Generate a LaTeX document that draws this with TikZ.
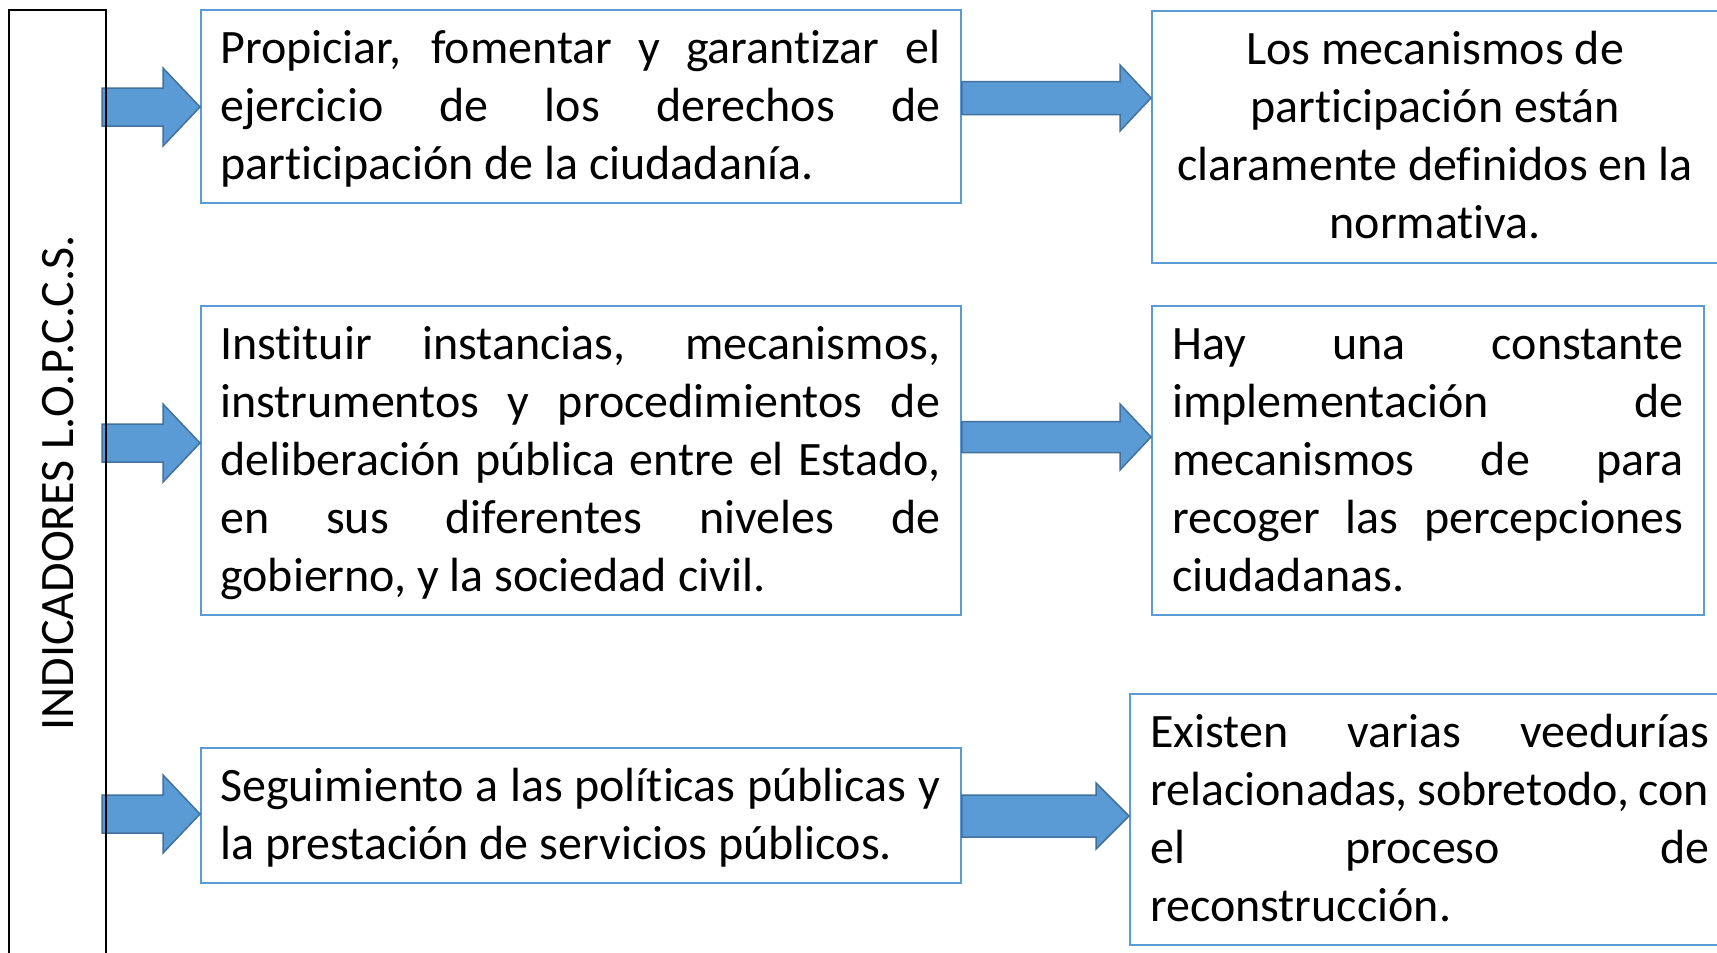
\documentclass[tikz,border=0pt]{standalone}
\usepackage{fontspec}
\setmainfont{Carlito}[Ligatures={NoCommon}]
\usetikzlibrary{calc}
\definecolor{boxblue}{HTML}{5B9BD5}
\definecolor{arrowedge}{HTML}{41719C}
\newcommand\jline[2]{\hbox to #1{\spaceskip=0.226em plus 1fil minus 0.06em\relax #2}}
\newcommand\lline[2]{\hbox to #1{#2\hfil}}
\newcommand\centline[2]{\hbox to #1{\hfil #2\hfil}}
\newcommand\txtblock[1]{\vtop{\baselineskip=58pt\lineskiplimit=-100pt\relax #1}}
\tikzset{
  box/.style={draw=boxblue, line width=1.8pt, fill=white, anchor=north west, inner sep=0pt},
  panel/.style={draw=black, line width=1.8pt, anchor=north west, inner sep=0pt},
  txt/.style={anchor=base west, inner sep=0pt, font=\fontsize{48}{58}\selectfont},
  blkarrow/.style={fill=boxblue, draw=arrowedge, line width=1.5pt, line join=miter},
  blockarrow/.style n args={3}{to path={let \p1=(\tikztostart), \p2=(\tikztotarget) in
    (\x1,\y1+#1) -- (\x2-#3,\y1+#1) -- (\x2-#3,\y1+#2) -- (\x2,\y1) --
    (\x2-#3,\y1-#2) -- (\x2-#3,\y1-#1) -- (\x1,\y1-#1) -- cycle}}
}
\begin{document}
\begin{tikzpicture}[x=1pt,y=-1pt]
\useasboundingbox (0,0) rectangle (1717,953);
\clip (0,0) rectangle (1717,953);
\fill[white] (0,0) rectangle (1717,953);

% boxes
\node[box, minimum width=760pt, minimum height=193pt] (b1) at (200,9) {};
\node[box, minimum width=568pt, minimum height=252pt] (r1) at (1151,10) {};
\node[box, minimum width=760pt, minimum height=309pt] (b2) at (200,305) {};
\node[box, minimum width=552pt, minimum height=309pt] (r2) at (1151,305) {};
\node[box, minimum width=760pt, minimum height=135pt] (b3) at (200,747) {};
\node[box, minimum width=601pt, minimum height=251pt] (r3) at (1129,693) {};

% texts
\node[txt] (t1) at (220,63.5) {\txtblock{%
  \jline{720pt}{Propiciar, fomentar y garantizar el}
  \jline{720pt}{ejercicio de los derechos de}
  \lline{720pt}{participación de la ciudadanía.}}};
\node[txt] (s1) at (1172,64.5) {\txtblock{%
  \centline{526pt}{Los mecanismos de}
  \centline{526pt}{participación están}
  \centline{526pt}{claramente definidos en la}
  \centline{526pt}{normativa.}}};
\node[txt] (t2) at (220,359.5) {\txtblock{%
  \jline{720pt}{Instituir instancias, mecanismos,}
  \jline{720pt}{instrumentos y procedimientos de}
  \jline{720pt}{deliberación pública entre el Estado,}
  \jline{720pt}{en sus diferentes niveles de}
  \lline{720pt}{gobierno, y la sociedad civil.}}};
\node[txt] (s2) at (1172,359.5) {\txtblock{%
  \jline{511pt}{Hay una constante}
  \jline{511pt}{implementación de}
  \jline{511pt}{mecanismos de para}
  \jline{511pt}{recoger las percepciones}
  \lline{511pt}{ciudadanas.}}};
\node[txt] (t3) at (220,801.5) {\txtblock{%
  \jline{720pt}{Seguimiento a las políticas públicas y}
  \lline{720pt}{la prestación de servicios públicos.}}};
\node[txt] (s3) at (1150,747.5) {\txtblock{%
  \jline{559pt}{Existen varias veedurías}
  \jline{559pt}{relacionadas, sobretodo, con}
  \jline{559pt}{el proceso de}
  \lline{559pt}{reconstrucción.}}};

% arrow start points
\coordinate (p1) at (102,107);
\coordinate (p2) at (102,443);
\coordinate (p3) at (102,814);
\coordinate (q1) at (b1.east |- 0,98);
\coordinate (q2) at (b2.east |- 0,437);
\coordinate (q3) at (b3.east |- 0,816);

% left arrows
\draw[blkarrow, blockarrow={19pt}{39pt}{37pt}] (p1) to (p1 -| b1.west);
\draw[blkarrow, blockarrow={19pt}{39pt}{37pt}] (p2) to (p2 -| b2.west);
\draw[blkarrow, blockarrow={19pt}{39pt}{37pt}] (p3) to (p3 -| b3.west);
% right arrows
\draw[blkarrow, blockarrow={16.5pt}{33pt}{31pt}] (q1) to (q1 -| r1.west);
\draw[blkarrow, blockarrow={15.5pt}{33pt}{31pt}] (q2) to (q2 -| r2.west);
\draw[blkarrow, blockarrow={21pt}{33pt}{33pt}] (q3) to (q3 -| r3.west);

% left panel
\node[panel, minimum width=97pt, minimum height=960pt] (panel) at (8,9) {};
\node[rotate=90, inner sep=0pt, font=\fontsize{48}{58}\selectfont] (lbl) at (58,483) {INDICADORES L.O.P.C.C.S.};
\end{tikzpicture}
\end{document}
